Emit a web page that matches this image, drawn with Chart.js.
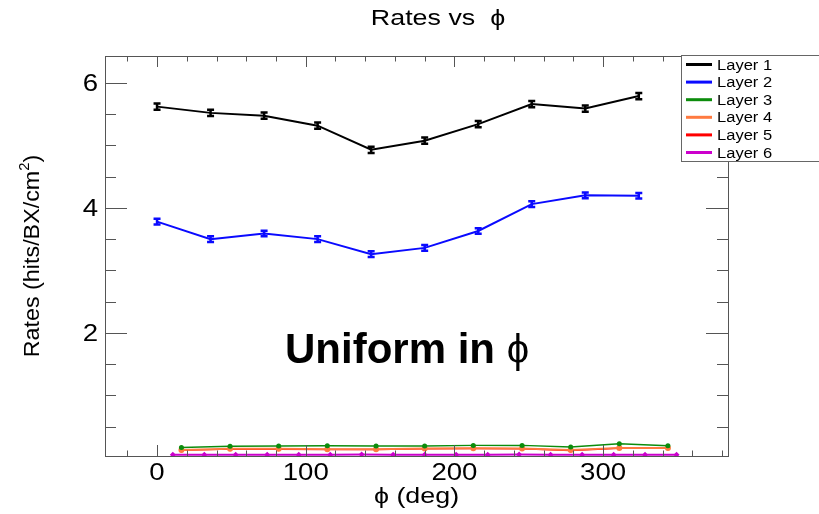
<!DOCTYPE html>
<html>
<head>
<meta charset="utf-8">
<title>Rates vs phi</title>
<script src="https://cdn.jsdelivr.net/npm/chart.js@4.4.0/dist/chart.umd.min.js"></script>
<style>
  html, body { margin: 0; padding: 0; background: #fff; }
  #wrap { width: 819px; height: 514px; }
</style>
</head>
<body>
<div id="wrap"><canvas id="ratesChart" width="819" height="514"></canvas></div>
<script>
// phi bin centres (deg) for the different layer segmentations
var phiL12 = [0, 36, 72, 108, 144, 180, 216, 252, 288, 324];
var phiL345 = [16.4, 49.1, 81.8, 114.5, 147.3, 180, 212.7, 245.5, 278.2, 310.9, 343.6];
var phiL6 = [10.6, 31.8, 52.9, 74.1, 95.3, 116.5, 137.6, 158.8, 180, 201.2, 222.4, 243.5, 264.7, 285.9, 307.1, 328.2, 349.4];

// rates in hits/BX/cm2
var rateL1 = [5.62, 5.52, 5.475, 5.315, 4.93, 5.075, 5.34, 5.66, 5.59, 5.79];
var errL1  = [0.05, 0.05, 0.05, 0.05, 0.05, 0.05, 0.05, 0.05, 0.05, 0.05];
var rateL2 = [3.78, 3.50, 3.59, 3.50, 3.26, 3.36, 3.63, 4.06, 4.20, 4.195];
var errL2  = [0.045, 0.045, 0.045, 0.045, 0.045, 0.045, 0.045, 0.045, 0.045, 0.045];
var rateL3 = [0.165, 0.185, 0.19, 0.195, 0.19, 0.19, 0.20, 0.20, 0.175, 0.225, 0.195];
var rateL4 = [0.125, 0.145, 0.145, 0.14, 0.14, 0.15, 0.155, 0.15, 0.125, 0.16, 0.16];
var rateL5 = [0.12, 0.14, 0.14, 0.135, 0.135, 0.145, 0.15, 0.145, 0.12, 0.155, 0.155];
var rateL6 = [0.05, 0.05, 0.05, 0.05, 0.05, 0.05, 0.055, 0.05, 0.05, 0.05, 0.05, 0.055, 0.05, 0.05, 0.05, 0.05, 0.05];

var layerNames  = ['Layer 1', 'Layer 2', 'Layer 3', 'Layer 4', 'Layer 5', 'Layer 6'];
var layerColors = ['#000000', '#0a0aff', '#0c8c0c', '#ff7a40', '#ff0000', '#cc00cc'];

var xTicks = [0, 100, 200, 300];
var yTicks = [2, 4, 6];

var FONT = '"Liberation Sans", Arial, Helvetica, sans-serif';
var PHI = '\u03d5';

function pts(xs, ys) {
    var out = [];
    for (var i = 0; i < xs.length; i++) out.push({ x: xs[i], y: ys[i] });
    return out;
}

// text drawn slightly wider than the font, like the old root canvas output
function wideText(c, txt, x, y, font, align, sx) {
    c.save();
    c.translate(x, y);
    c.scale(sx, 1);
    c.font = font;
    c.textAlign = align;
    c.textBaseline = 'alphabetic';
    c.fillStyle = '#000';
    c.fillText(txt, 0, 0);
    c.restore();
}

var errorBars = {
    id: 'errorBars',
    afterDatasetsDraw: function(chart) {
        var c = chart.ctx, xs = chart.scales.x, ys = chart.scales.y;
        chart.data.datasets.forEach(function(ds) {
            if (!ds.errors) return;
            c.save();
            c.strokeStyle = ds.borderColor;
            c.lineWidth = 2.5;
            ds.data.forEach(function(p, i) {
                var px = xs.getPixelForValue(p.x);
                var top = ys.getPixelForValue(p.y + ds.errors[i]);
                var bot = ys.getPixelForValue(p.y - ds.errors[i]);
                c.beginPath();
                c.moveTo(px, top); c.lineTo(px, bot);
                c.moveTo(px - 3.5, top); c.lineTo(px + 3.5, top);
                c.moveTo(px - 3.5, bot); c.lineTo(px + 3.5, bot);
                c.stroke();
            });
            c.restore();
        });
    }
};

var frameAndLabels = {
    id: 'frameAndLabels',
    afterDraw: function(chart) {
        var c = chart.ctx, a = chart.chartArea;
        var xs = chart.scales.x, ys = chart.scales.y;
        var v, px, py;

        c.save();
        c.strokeStyle = '#555';
        c.lineWidth = 1;
        c.strokeRect(a.left + 0.5, a.top + 0.5, a.right - a.left, a.bottom - a.top);

        // x ticks on bottom and top edges, every 20 deg
        c.beginPath();
        for (v = -20; v <= 380; v += 20) {
            px = Math.round(xs.getPixelForValue(v)) + 0.5;
            var len = (v % 100 === 0) ? 11 : 5.5;
            c.moveTo(px, a.bottom); c.lineTo(px, a.bottom - len);
            c.moveTo(px, a.top); c.lineTo(px, a.top + len);
        }
        // y ticks on left and right edges, every 0.5
        for (v = 0.5; v <= 6.0; v += 0.5) {
            py = Math.round(ys.getPixelForValue(v)) + 0.5;
            var ylen = (v % 2 === 0) ? 22 : 11;
            c.moveTo(a.left, py); c.lineTo(a.left + ylen, py);
            c.moveTo(a.right, py); c.lineTo(a.right - ylen, py);
        }
        c.stroke();
        c.restore();

        // tick labels
        xs.ticks.forEach(function(t) {
            wideText(c, String(t.value), xs.getPixelForValue(t.value), 480, '23px ' + FONT, 'center', 1.2);
        });
        ys.ticks.forEach(function(t) {
            wideText(c, String(t.value), 98, ys.getPixelForValue(t.value) + 8, '23px ' + FONT, 'right', 1.2);
        });

        // titles
        wideText(c, 'Rates vs  ' + PHI, 438, 25, '22px ' + FONT, 'center', 1.22);
        wideText(c, PHI + ' (deg)', (a.left + a.right) / 2, 503, '22px ' + FONT, 'center', 1.22);

        // rotated y title with superscript
        c.save();
        c.translate(39, 256);
        c.rotate(-Math.PI / 2);
        c.scale(1.06, 1);
        c.fillStyle = '#000';
        c.textBaseline = 'alphabetic';
        c.font = '22px ' + FONT;
        var t1 = 'Rates (hits/BX/cm', t2 = '2', t3 = ')';
        var w1 = c.measureText(t1).width, w3 = c.measureText(t3).width;
        c.font = '14px ' + FONT;
        var w2 = c.measureText(t2).width;
        var total = w1 + w2 + w3;
        var x0 = -total / 2;
        c.font = '22px ' + FONT;
        c.fillText(t1, x0, 0);
        c.font = '14px ' + FONT;
        c.fillText(t2, x0 + w1, -10);
        c.font = '22px ' + FONT;
        c.fillText(t3, x0 + w1 + w2, 0);
        c.restore();

        // annotation
        c.save();
        c.fillStyle = '#000';
        c.textBaseline = 'alphabetic';
        c.font = 'bold 42px ' + FONT;
        c.fillText('Uniform in ', 285, 363);
        var wu = c.measureText('Uniform in ').width;
        c.font = '40px ' + FONT;
        c.fillText(PHI, 285 + wu, 363);
        c.restore();

        // legend box, cut by the right edge of the canvas
        c.save();
        c.fillStyle = '#fff';
        c.strokeStyle = '#666';
        c.lineWidth = 1;
        c.fillRect(681, 55.5, 150, 106);
        c.strokeRect(681.5, 55.5, 150, 106);
        chart.data.datasets.forEach(function(ds, i) {
            var ly = 64.5 + i * 17.6;
            c.strokeStyle = layerColors[i];
            c.lineWidth = 3;
            c.beginPath();
            c.moveTo(686, ly); c.lineTo(712, ly);
            c.stroke();
        });
        c.restore();
        chart.data.datasets.forEach(function(ds, i) {
            wideText(c, ds.label, 717, 64.5 + i * 17.6 + 5, '14px ' + FONT, 'left', 1.18);
        });
    }
};

var ctx = document.getElementById('ratesChart').getContext('2d');

var ratesChart = new Chart(ctx, {
    type: 'line',
    data: {
        datasets: [
            { label: layerNames[0], data: pts(phiL12, rateL1), errors: errL1,
              borderColor: layerColors[0], borderWidth: 2, pointRadius: 0 },
            { label: layerNames[1], data: pts(phiL12, rateL2), errors: errL2,
              borderColor: layerColors[1], borderWidth: 2, pointRadius: 0 },
            { label: layerNames[2], data: pts(phiL345, rateL3),
              borderColor: layerColors[2], backgroundColor: layerColors[2], borderWidth: 1.5,
              pointRadius: 2.5, pointBorderWidth: 0 },
            { label: layerNames[3], data: pts(phiL345, rateL4),
              borderColor: layerColors[3], backgroundColor: layerColors[3], borderWidth: 2,
              pointRadius: 3, pointBorderWidth: 0 },
            { label: layerNames[4], data: pts(phiL345, rateL5),
              borderColor: layerColors[4], backgroundColor: layerColors[4], borderWidth: 1.5,
              pointRadius: 2, pointBorderWidth: 0 },
            { label: layerNames[5], data: pts(phiL6, rateL6),
              borderColor: layerColors[5], backgroundColor: layerColors[5], borderWidth: 2,
              pointStyle: 'rectRot', pointRadius: 3, pointBorderWidth: 0 }
        ]
    },
    options: {
        responsive: false,
        animation: false,
        devicePixelRatio: 1,
        layout: { padding: { top: 56, right: 91, left: 0, bottom: 0 } },
        plugins: {
            legend: { display: false },
            title: { display: false },
            tooltip: { enabled: false }
        },
        elements: { line: { tension: 0, fill: false } },
        scales: {
            x: {
                type: 'linear', min: -35, max: 384,
                grid: { display: false }, border: { display: false },
                ticks: { display: false },
                afterBuildTicks: function(s) { s.ticks = xTicks.map(function(v) { return { value: v }; }); },
                afterFit: function(s) { s.height = 58; }
            },
            y: {
                type: 'linear', min: 0.03, max: 6.43,
                grid: { display: false }, border: { display: false },
                ticks: { display: false },
                afterBuildTicks: function(s) { s.ticks = yTicks.map(function(v) { return { value: v }; }); },
                afterFit: function(s) { s.width = 105; }
            }
        }
    },
    plugins: [errorBars, frameAndLabels]
});
</script>
</body>
</html>
